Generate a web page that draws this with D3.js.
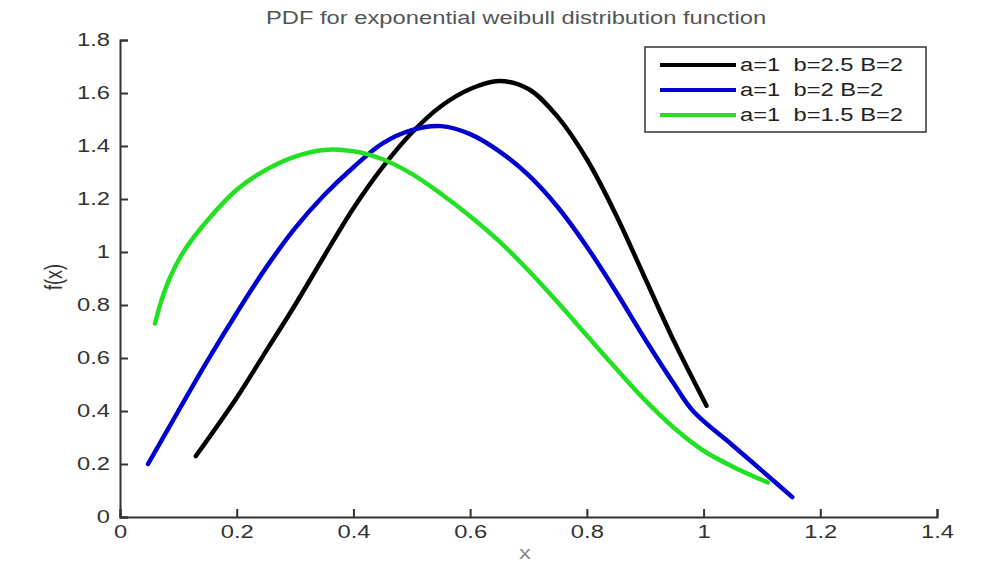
<!DOCTYPE html>
<html>
<head>
<meta charset="utf-8">
<script src="https://cdn.jsdelivr.net/npm/d3@7"></script>
<style>
  body { margin: 0; background: #fff; }
  svg { display: block; font-family: "Liberation Sans", Arial, sans-serif; }
</style>
</head>
<body>
<div id="chart-area"></div>
<script>
// values: [x, f(x)]
var seriesNames = ["a=1  b=2.5 B=2", "a=1  b=2 B=2", "a=1  b=1.5 B=2"];
var seriesColors = ["#000000", "#0000d0", "#22e022"];

var blackData = [[0.13, 0.23], [0.2, 0.45], [0.25, 0.625], [0.3, 0.80], [0.35, 0.985],
    [0.4, 1.165], [0.45, 1.32], [0.5, 1.45], [0.55, 1.55], [0.6, 1.615], [0.65, 1.645],
    [0.7, 1.615], [0.75, 1.51], [0.8, 1.35], [0.85, 1.14], [0.9, 0.90], [0.95, 0.66],
    [1.005, 0.42]];

var blueData = [[0.048, 0.20], [0.1, 0.40], [0.15, 0.59], [0.2, 0.77], [0.25, 0.94],
    [0.3, 1.09], [0.35, 1.215], [0.4, 1.32], [0.45, 1.41], [0.5, 1.46], [0.55, 1.475],
    [0.6, 1.445], [0.65, 1.38], [0.7, 1.29], [0.75, 1.17], [0.8, 1.02], [0.85, 0.85],
    [0.9, 0.67], [0.95, 0.50], [0.982, 0.40], [1.05, 0.27], [1.1, 0.175], [1.152, 0.075]];

var greenData = [[0.06, 0.73], [0.07, 0.81], [0.085, 0.90], [0.11, 1.005], [0.15, 1.12],
    [0.2, 1.235], [0.25, 1.31], [0.3, 1.36], [0.35, 1.385], [0.4, 1.38], [0.45, 1.35],
    [0.5, 1.295], [0.55, 1.22], [0.6, 1.135], [0.65, 1.04], [0.7, 0.93], [0.75, 0.81],
    [0.8, 0.685], [0.85, 0.56], [0.9, 0.44], [0.95, 0.335], [1.0, 0.25], [1.05, 0.19],
    [1.11, 0.13]];

var xTicks = [0, 0.2, 0.4, 0.6, 0.8, 1, 1.2, 1.4];
var yTicks = [0, 0.2, 0.4, 0.6, 0.8, 1, 1.2, 1.4, 1.6, 1.8];

// the reference text is stretched sideways
var stretch = 1.32;

var margin = { top: 40, bottom: 46, left: 120, right: 62 };
var width  = 999 - margin.left - margin.right;
var height = 563 - margin.top - margin.bottom;

var svg = d3.select("#chart-area")
    .append("svg")
        .attr("width", 999)
        .attr("height", 563);

svg.append("rect")
    .attr("width", 999)
    .attr("height", 563)
    .attr("fill", "#fff");

var g = svg.append("g")
    .attr("transform", "translate(" + margin.left + ", " + margin.top + ")");

var x = d3.scaleLinear().domain([0, 1.4]).range([0, width]);
var y = d3.scaleLinear().domain([0, 1.8]).range([height, 0]);

var fmt = function(d) { return String(+d.toFixed(1)); };

var xAxis = g.append("g")
    .attr("class", "x-axis")
    .attr("transform", "translate(0, " + height + ")")
    .call(d3.axisBottom(x)
        .tickValues(xTicks)
        .tickSize(-8)
        .tickPadding(8)
        .tickFormat(fmt));

var yAxis = g.append("g")
    .attr("class", "y-axis")
    .call(d3.axisLeft(y)
        .tickValues(yTicks)
        .tickSize(-8)
        .tickPadding(10 / stretch)
        .tickFormat(fmt));

[xAxis, yAxis].forEach(function(ax) {
    ax.select(".domain").attr("stroke", "#333").attr("stroke-width", 2);
    ax.selectAll(".tick line").attr("stroke", "#333").attr("stroke-width", 2);
    ax.selectAll(".tick text")
        .attr("fill", "#333")
        .attr("font-size", "18px")
        .attr("font-family", "Liberation Sans, Arial, sans-serif")
        .attr("transform", "scale(" + stretch + ",1)");
});

svg.append("text")
    .attr("transform", "translate(516, 24) scale(" + stretch + ",1)")
    .attr("text-anchor", "middle")
    .attr("font-size", "18px")
    .attr("fill", "#555")
    .text("PDF for exponential weibull distribution function");

svg.append("text")
    .attr("transform", "translate(525, 559) scale(" + stretch + ",1)")
    .attr("text-anchor", "middle")
    .attr("font-size", "18px")
    .attr("fill", "#888")
    .text("x");

svg.append("text")
    .attr("transform", "translate(54, 277) scale(" + stretch + ",1) rotate(-90)")
    .attr("text-anchor", "middle")
    .attr("dy", "0.35em")
    .attr("font-size", "18px")
    .attr("fill", "#333")
    .text("f(x)");

var line = d3.line()
    .x(function(d) { return x(d[0]); })
    .y(function(d) { return y(d[1]); })
    .curve(d3.curveCatmullRom.alpha(0.5));

[blackData, blueData, greenData].forEach(function(data, i) {
    g.append("path")
        .datum(data)
        .attr("fill", "none")
        .attr("stroke", seriesColors[i])
        .attr("stroke-width", 4.5)
        .attr("stroke-linejoin", "round")
        .attr("stroke-linecap", "round")
        .attr("d", line);
});

// legend
var legend = svg.append("g")
    .attr("transform", "translate(645, 47)");

legend.append("rect")
    .attr("width", 281)
    .attr("height", 85)
    .attr("fill", "#fff")
    .attr("stroke", "#333")
    .attr("stroke-width", 1.5);

seriesNames.forEach(function(name, i) {
    var row = legend.append("g")
        .attr("transform", "translate(0, " + (18 + i * 25) + ")");
    row.append("line")
        .attr("x1", 15)
        .attr("x2", 91)
        .attr("stroke", seriesColors[i])
        .attr("stroke-width", 4);
    row.append("text")
        .attr("transform", "translate(95, 6) scale(" + stretch + ",1)")
        .attr("font-size", "18px")
        .attr("fill", "#222")
        .style("white-space", "pre")
        .text(name);
});
</script>
</body>
</html>
